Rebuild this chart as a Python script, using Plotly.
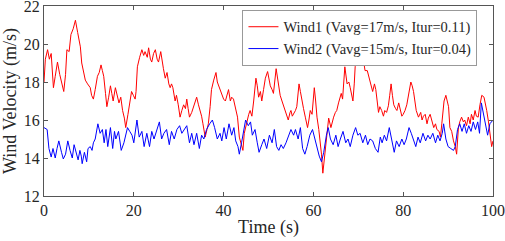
import plotly.graph_objects as go

wind1_time = [0,0.3,0.8,1.2,1.6,2.1,2.5,3.0,3.5,4.0,4.4,4.8,5.1,5.6,6.0,6.5,7.0,7.5,8.1,8.4,8.7,9.2,9.7,10.3,10.6,11.0,11.4,11.9,12.3,12.7,13.0,13.3,13.7,14.0,14.4,14.8,15.1,15.4,15.9,16.3,16.7,17.1,17.5,17.9,18.2,18.7,19.1,19.5,19.9,20.3,20.5,20.8,21.3,21.8,22.2,22.5,23.0,23.3,23.7,24.0,24.4,24.8,25.2,25.5,26.0,26.3,26.6,27.0,27.4,27.8,28.1,28.4,28.7,29.2,29.5,29.9,30.3,30.7,31.1,31.5,31.8,32.1,32.4,32.9,33.3,33.7,34.0,34.4,34.8,35.1,35.4,35.9,36.3,36.6,37.0,37.3,37.8,38.3,38.6,38.9,39.2,39.6,40.0,40.4,40.8,41.1,41.5,41.8,42.2,42.5,42.8,43.1,43.5,43.9,44.3,44.6,45.2,45.6,45.9,46.3,46.7,47.2,47.5,47.8,48.2,48.5,48.9,49.3,49.8,50.1,50.4,50.8,51.1,51.7,52.2,52.6,53.0,53.4,53.7,54.1,54.4,54.8,55.0,55.3,55.6,56.0,56.3,56.8,57.1,57.4,57.8,58.2,58.7,59.0,59.3,59.7,60.2,60.5,60.8,61.2,61.5,61.8,62.1,62.6,63.0,63.4,63.9,64.2,64.5,64.9,65.2,65.6,65.9,66.2,66.5,67.0,67.5,67.9,68.2,68.5,68.8,69.1,69.3,69.8,70.1,70.4,70.7,71.0,71.3,71.5,72.0,72.3,72.6,72.9,73.2,73.6,73.9,74.2,74.5,74.8,75.2,75.6,75.9,76.3,76.7,77.0,77.3,77.6,77.9,78.3,78.6,79.0,79.3,79.7,80.0,80.4,80.8,81.2,81.7,82.0,82.3,82.9,83.4,83.9,84.2,84.5,84.9,85.3,85.6,86.0,86.4,86.8,87.2,87.5,88.0,88.3,88.6,89.1,89.5,89.8,90.1,90.4,90.8,91.2,91.6,91.9,92.3,92.6,93.0,93.4,93.7,94.1,94.5,94.9,95.2,95.6,96.0,96.3,96.7,97.1,97.5,98.0,98.3,98.6,99.0,99.2,99.5,99.7,100]
wind1_speed = [18.0,19.2,19.7,19.2,19.5,17.7,18.3,19.05,18.4,17.9,17.5,18.4,19.7,19.6,20.5,20.8,21.25,20.6,19.85,19.0,18.6,18.1,17.9,17.7,17.3,17.1,17.6,18.3,18.5,18.9,18.6,18.3,17.4,16.7,17.2,17.8,17.4,17.0,17.7,17.3,16.9,17.2,16.5,16.1,15.6,16.3,17.0,17.5,17.3,17.1,17.5,18.8,19.3,19.7,19.4,19.6,19.3,19.8,19.2,19.05,19.5,19.7,19.2,19.05,19.6,19.0,18.7,18.2,18.5,17.9,17.7,17.9,17.7,17.0,17.3,16.8,16.15,16.5,16.8,16.6,17.1,16.6,16.15,16.4,16.7,17.0,17.2,16.8,16.5,16.2,15.8,15.1,15.5,15.8,16.7,17.6,18.1,18.5,18.0,17.8,17.6,17.4,17.1,17.0,17.3,17.6,17.0,17.2,17.1,16.8,16.5,16.15,15.1,14.8,14.4,15.3,16.0,16.3,16.5,16.2,17.0,18.2,17.8,17.2,17.5,17.0,17.6,18.2,18.55,18.1,17.8,17.6,17.4,18.7,17.8,17.3,17.0,16.7,16.5,16.2,16.0,16.4,16.5,16.2,16.3,16.5,16.7,17.9,17.5,17.0,16.6,16.15,15.6,16.0,16.5,16.3,17.7,17.0,16.15,15.5,14.9,14.2,13.2,14.3,15.2,16.1,15.6,15.9,16.15,16.4,16.5,16.9,17.2,17.4,17.1,18.8,17.9,18.0,17.7,17.4,17.0,17.9,18.8,19.5,19.2,19.4,19.1,19.4,19.0,18.6,18.6,18.3,18.1,17.8,17.5,17.9,17.6,17.0,16.4,16.7,16.5,16.2,16.5,16.4,16.75,17.3,17.9,17.3,16.8,16.6,16.5,16.9,16.6,16.2,16.3,16.5,16.8,17.4,18.0,17.8,17.5,16.5,16.15,16.4,16.0,16.2,16.3,15.8,16.1,16.3,15.9,15.6,15.8,15.5,15.4,15.1,15.8,17.0,17.3,17.0,16.7,15.6,15.4,14.9,14.6,14.2,15.6,15.9,16.15,15.9,16.0,15.7,16.15,15.8,16.3,16.0,16.5,16.2,16.15,16.8,17.3,17.2,16.9,16.5,15.9,15.5,15.0,14.6,14.9]

wind2_time = [0,0.4,0.7,1.1,1.6,2.0,2.5,2.9,3.3,3.9,4.3,4.8,5.3,5.8,6.3,6.7,7.3,7.6,8.0,8.3,8.5,9.0,9.5,9.8,10.3,10.7,11.0,11.4,12.0,12.5,13.0,13.4,13.8,14.2,14.8,15.3,15.7,16.0,16.6,17.2,17.8,18.6,19.1,19.6,20.0,20.7,21.2,21.8,22.3,22.9,23.5,24.0,24.5,25.1,25.7,26.2,26.7,27.3,27.9,28.4,29.0,29.6,30.2,30.7,31.2,31.8,32.4,32.9,33.4,34.0,34.6,35.1,35.6,36.2,36.9,37.5,38.0,38.6,39.2,39.6,40.1,40.6,41.2,41.8,42.3,42.7,43.2,43.5,44.0,44.5,44.9,45.5,46.0,46.4,47.0,47.5,47.9,48.5,49.0,49.6,50.2,50.8,51.3,51.8,52.3,52.8,53.3,53.9,54.5,55.0,55.6,56.0,56.6,57.1,57.6,58.1,58.6,59.2,59.8,60.3,60.8,61.3,61.8,62.3,62.9,63.3,63.8,64.4,65.0,65.5,66.0,66.6,67.2,67.7,68.2,68.8,69.4,69.9,70.4,71.0,71.6,72.1,72.6,73.2,73.8,74.4,74.9,75.3,75.8,76.3,76.9,77.5,78.0,78.5,79.1,79.7,80.2,80.7,81.3,81.8,82.3,82.8,83.3,83.8,84.4,85.0,85.5,86.0,86.6,87.2,87.7,88.2,88.7,89.0,89.5,90.0,90.6,91.2,91.6,92.1,92.6,93.1,93.6,94.1,94.6,95.1,95.6,96.1,96.6,97.0,97.4,97.9,98.3,98.8,99.3,100]
wind2_speed = [15.6,15.55,15.5,14.5,14.05,14.5,14.0,14.5,14.9,14.3,13.95,14.2,14.9,14.4,14.0,14.7,14.2,13.9,14.4,14.1,13.7,14.3,13.8,14.5,14.6,14.4,14.8,15.0,15.8,15.3,15.5,14.8,15.5,14.6,15.6,14.5,15.4,15.0,15.4,14.4,14.8,15.6,15.4,15.2,14.8,16.0,15.1,15.4,14.6,15.3,14.6,15.4,15.0,15.5,15.9,15.0,15.3,15.5,14.7,15.4,15.0,15.5,15.7,15.3,15.5,15.7,14.8,15.3,14.7,15.3,14.5,15.2,15.0,15.5,15.8,16.0,15.6,15.0,15.3,14.9,15.6,15.0,15.8,15.2,15.6,14.9,14.6,14.2,14.8,15.5,16.0,15.7,15.9,15.2,15.5,14.8,14.3,14.7,15.0,14.5,15.2,14.8,15.5,14.6,14.4,14.7,14.5,14.8,15.2,15.5,15.2,15.5,15.0,15.6,14.5,14.2,14.6,15.2,15.5,15.0,14.5,14.1,13.8,14.3,15.2,15.6,15.0,14.7,15.2,14.6,15.0,15.4,14.8,15.0,14.6,15.2,15.6,15.2,15.3,14.8,15.2,14.7,15.0,14.9,14.5,14.3,15.1,14.8,15.2,14.9,15.6,14.8,14.3,14.9,14.6,15.0,14.7,15.0,15.6,15.3,15.0,14.6,15.1,14.8,15.3,14.9,15.2,15.0,15.3,14.8,15.2,14.9,15.3,15.8,15.0,14.6,14.5,14.4,14.6,15.5,15.8,15.4,15.8,15.3,15.7,15.4,15.9,15.5,15.9,15.3,16.9,16.3,15.8,15.2,15.8,16.0]

x_ticks = [0, 20, 40, 60, 80, 100]
y_ticks = [12, 14, 16, 18, 20, 22]

FONT = "Liberation Serif, Times New Roman, serif"

fig = go.Figure()
fig.add_trace(go.Scatter(x=wind1_time, y=wind1_speed, mode="lines",
                         name="Wind1 (Vavg=17m/s, Itur=0.11)",
                         line=dict(color="#ff0000", width=1)))
fig.add_trace(go.Scatter(x=wind2_time, y=wind2_speed, mode="lines",
                         name="Wind2 (Vavg=15m/s, Itur=0.04)",
                         line=dict(color="#0000ff", width=1)))

axis_common = dict(showgrid=False, zeroline=False, showline=True, linecolor="#555555",
                   linewidth=1, mirror="ticks", ticks="inside", ticklen=4,
                   tickcolor="#555555", automargin=False, ticklabeloverflow="allow",
                   tickfont=dict(family=FONT, size=16, color="#262626"))

fig.update_xaxes(range=[0, 100], tickvals=x_ticks,
                 title=dict(text="Time (s)", font=dict(family=FONT, size=18, color="#262626"), standoff=2),
                 **axis_common)
fig.update_yaxes(range=[12, 22], tickvals=y_ticks,
                 title=dict(text="Wind Velocity (m/s)", font=dict(family=FONT, size=18, color="#262626"), standoff=5),
                 **axis_common)

fig.update_layout(
    width=505, height=241,
    margin=dict(l=44, r=12, t=6, b=45),
    plot_bgcolor="white", paper_bgcolor="white",
    font=dict(family=FONT, color="#262626"),
    legend=dict(x=0.442, y=0.98, xanchor="left", yanchor="top",
                bgcolor="white", bordercolor="#999999", borderwidth=1,
                font=dict(family=FONT, size=14.5, color="#262626"),
                tracegroupgap=0, itemwidth=30),
)

fig.write_html("out.html", config={"displayModeBar": False},
               post_script="document.body.style.margin='0';document.body.style.overflow='hidden';")
